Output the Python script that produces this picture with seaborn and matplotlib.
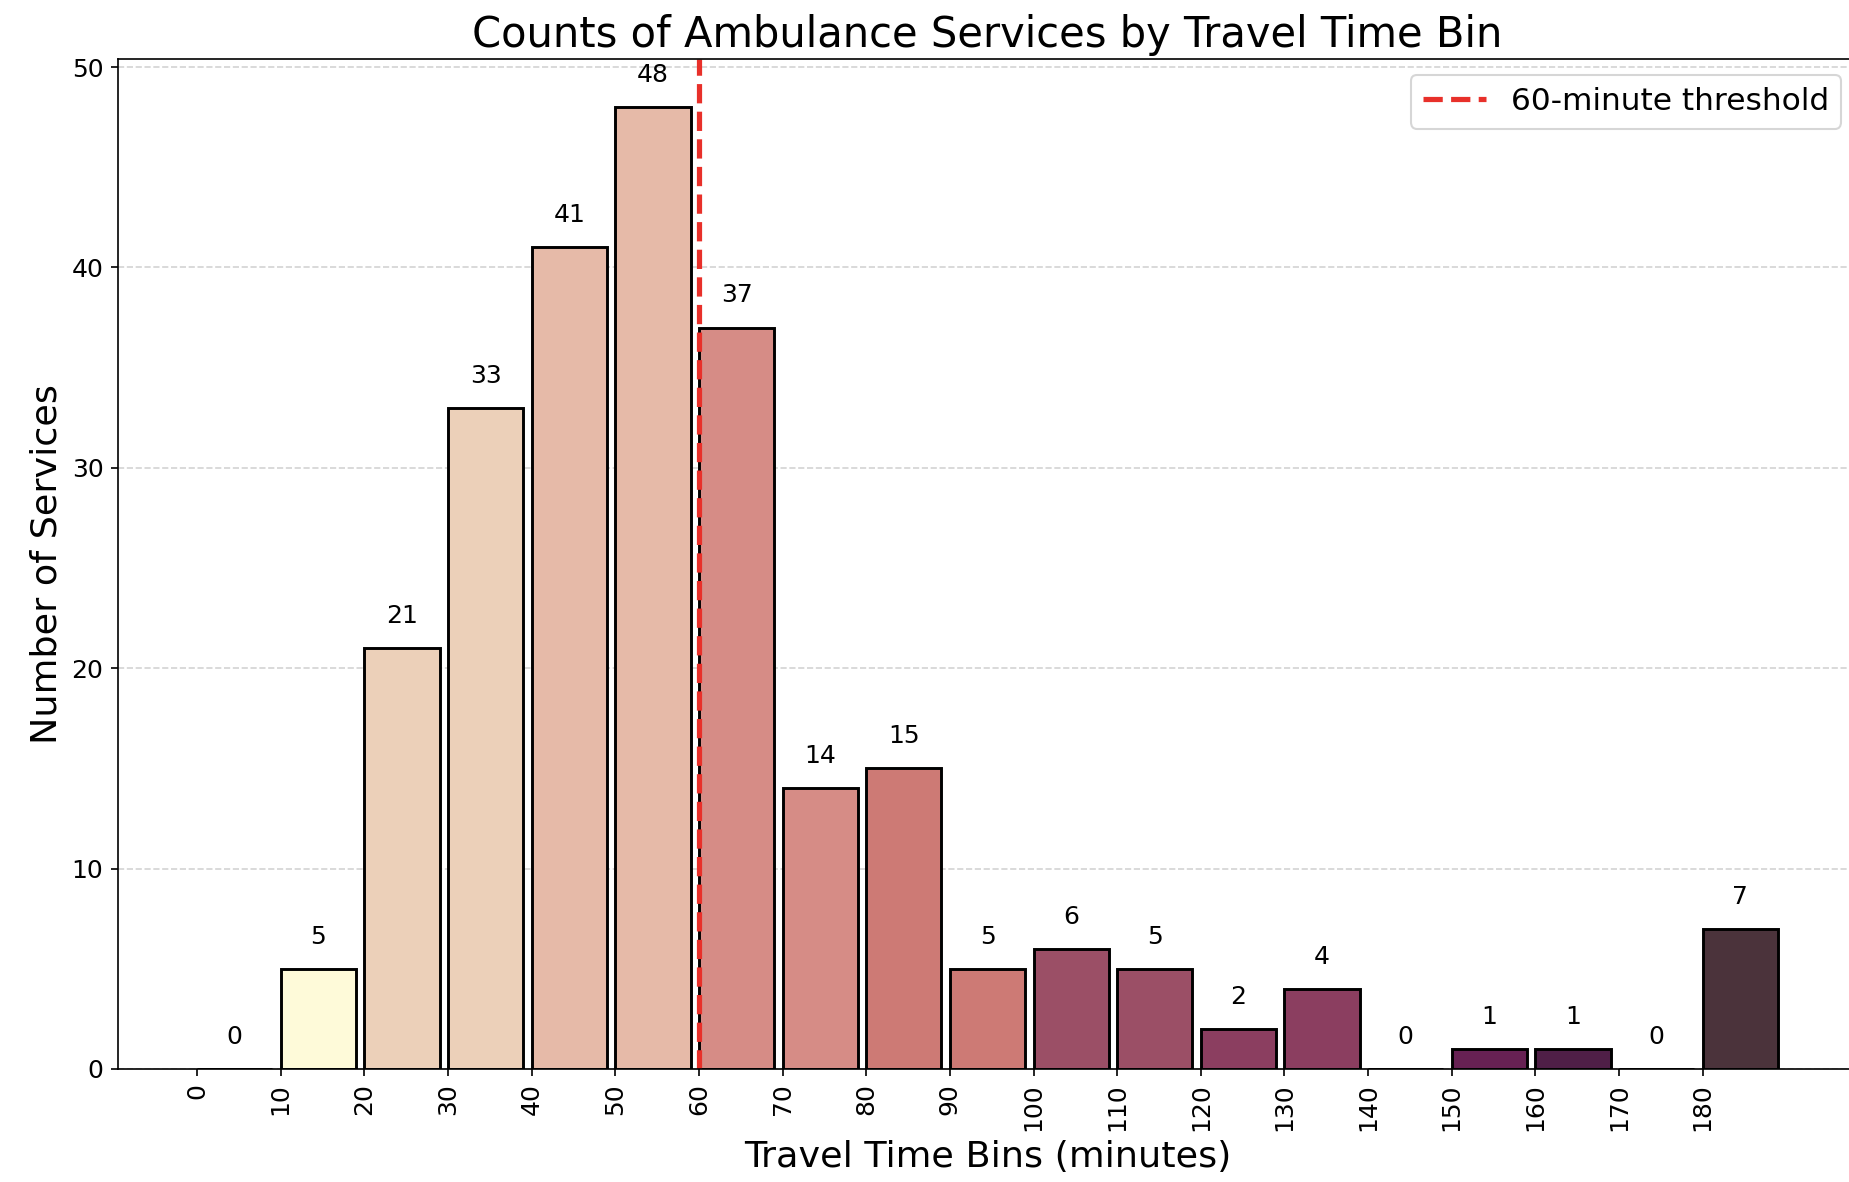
import matplotlib
matplotlib.use("Agg")
import matplotlib.pyplot as plt
import seaborn as sns
import pandas as pd

# ---- data ----
bin_starts = [0, 10, 20, 30, 40, 50, 60, 70, 80, 90, 100, 110, 120, 130, 140, 150, 160, 170, 180]
counts = [0, 5, 21, 33, 41, 48, 37, 14, 15, 5, 6, 5, 2, 4, 0, 1, 1, 0, 7]
bar_colors = ["#f3e0cf", "#fefad9", "#ecd0b9", "#ecd0b9", "#e6baa8", "#e6baa8",
              "#d68c86", "#d68c86", "#cd7a75", "#cd7a75", "#9b4f66", "#9b4f66",
              "#8b3e60", "#8b3e60", "#7a2e5a", "#672153", "#4f1f47", "#4b2a42", "#4b333b"]
bin_width = 10
threshold = 60
threshold_label = "60-minute threshold"
title = "Counts of Ambulance Services by Travel Time Bin"
xlabel = "Travel Time Bins (minutes)"
ylabel = "Number of Services"

df = pd.DataFrame({"start": bin_starts, "count": counts})
df["center"] = df["start"] + bin_width * 0.45
df["bin"] = df["start"].astype(str)
palette = dict(zip(df["bin"], bar_colors))

W, H, DPI = 1849, 1182, 150
fig = plt.figure(figsize=(W / DPI, H / DPI), dpi=DPI)
ax = fig.add_axes([118 / W, 1 - 1069 / H, (1857 - 118) / W, (1069 - 59) / H])

sns.barplot(data=df, x="center", y="count", hue="bin", palette=palette,
            native_scale=True, width=0.9, dodge=False, errorbar=None,
            saturation=1, edgecolor="black", linewidth=1.4, legend=False, ax=ax)

for c, v in zip(df["center"], df["count"]):
    ax.text(c, v + 1, str(v), ha="center", va="bottom", fontsize=12)

ax.axvline(threshold, color="#e8302a", linestyle="--", linewidth=2.5, label=threshold_label)
ax.legend(loc="upper right", fontsize=15)

ax.set_xticks(bin_starts)
ax.set_xticklabels([str(b) for b in bin_starts], rotation=90, fontsize=12)
ax.tick_params(axis="y", labelsize=12)
ax.set_yticks([0, 10, 20, 30, 40, 50])
ax.yaxis.grid(True, linestyle="--", color="#c8c8c8", alpha=0.8)
ax.set_axisbelow(True)
ax.set_title(title, fontsize=20)
ax.set_xlabel(xlabel, fontsize=17.5)
ax.set_ylabel(ylabel, fontsize=17.5)

fig.savefig("out.png", dpi=DPI)
